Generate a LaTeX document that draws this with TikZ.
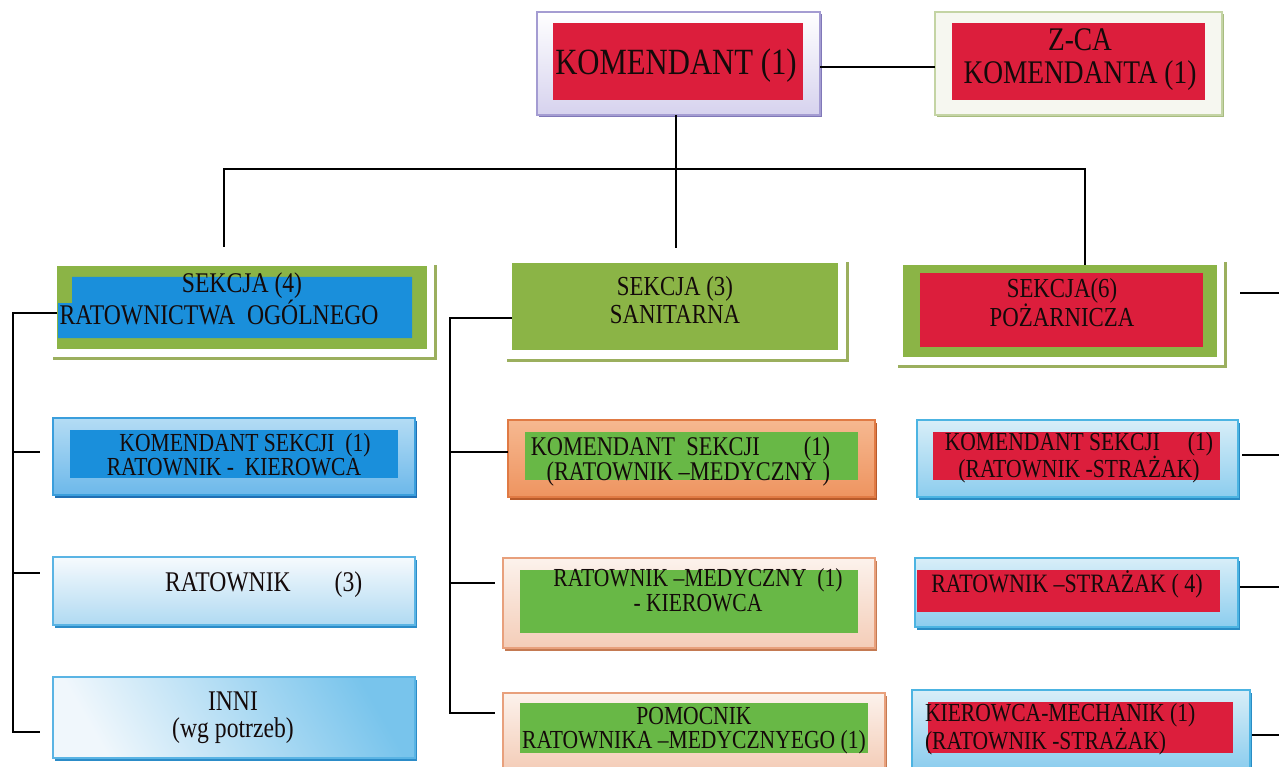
\documentclass[tikz,border=0pt]{standalone}
\usepackage{fontspec}
\setmainfont{Liberation Serif}[FakeStretch=0.83]
\usetikzlibrary{shadows}
\definecolor{redI}{HTML}{DC1E3C}
\definecolor{blueI}{HTML}{1A8FDB}
\definecolor{greenI}{HTML}{68B846}
\definecolor{greenS}{HTML}{8BB446}
\definecolor{oliveF}{HTML}{9BAF5E}
\definecolor{lavD}{HTML}{A49CD2}
\definecolor{lavL}{HTML}{D6D2EE}
\definecolor{lavS}{HTML}{8078B8}
\definecolor{zcaD}{HTML}{C4D4A4}
\definecolor{zcaF}{HTML}{F6F7F0}
\definecolor{zcaS}{HTML}{A8BC80}
\definecolor{bluD}{HTML}{3A9EDC}
\definecolor{bluT}{HTML}{B4DCF4}
\definecolor{bluB}{HTML}{6CB8EA}
\definecolor{bluS}{HTML}{1F6FB4}
\definecolor{palD}{HTML}{5AB4E4}
\definecolor{palT}{HTML}{F6FAFD}
\definecolor{palB}{HTML}{B0DAF2}
\definecolor{palS}{HTML}{2C8CC8}
\definecolor{inL}{HTML}{F0F7FC}
\definecolor{inR}{HTML}{78C4EC}
\definecolor{cyD}{HTML}{4CB4E2}
\definecolor{cyT}{HTML}{D8EEF8}
\definecolor{cyB}{HTML}{8CCDEE}
\definecolor{cyS}{HTML}{2A8CC4}
\definecolor{orD}{HTML}{E07A44}
\definecolor{orT}{HTML}{F6B890}
\definecolor{orB}{HTML}{EE9460}
\definecolor{orS}{HTML}{B85A2A}
\definecolor{peD}{HTML}{E8A07C}
\definecolor{peT}{HTML}{FCF2EC}
\definecolor{peB}{HTML}{F4CDB8}
\definecolor{peS}{HTML}{C47A52}
\definecolor{txtC}{HTML}{140A0A}
\begin{document}
\begin{tikzpicture}[x=1pt,y=-1pt,
  base/.style={rectangle, inner sep=0pt, outer sep=0pt},
  sh/.style={drop shadow={shadow xshift=2pt, shadow yshift=-2.5pt, fill=#1, opacity=1}},
  lavbox/.style={base, draw=lavD, line width=1.5pt, top color=white, bottom color=lavL, sh=lavS},
  zcabox/.style={base, draw=zcaD, line width=1.5pt, fill=zcaF, sh=zcaS},
  bluebox/.style={base, draw=bluD, line width=1.5pt, top color=bluT, bottom color=bluB, sh=bluS},
  paleblue/.style={base, draw=palD, line width=1.2pt, top color=palT, bottom color=palB, sh=palS},
  innibox/.style={base, draw=palD, line width=1.2pt, shading=axis, left color=inL, right color=inR, shading angle=120, sh=palS},
  cyanbox/.style={base, draw=cyD, line width=1.5pt, top color=cyT, bottom color=cyB, sh=cyS},
  orangebox/.style={base, draw=orD, line width=1.5pt, top color=orT, bottom color=orB, sh=orS},
  peachbox/.style={base, draw=peD, line width=1.5pt, top color=peT, bottom color=peB, sh=peS},
  inner/.style={base, fill=#1},
  secframe/.style={line width=3pt, draw=oliveF},
  txt/.style={inner sep=0pt, outer sep=0pt, align=center, text=txtC},
  fs/.style 2 args={font=\fontsize{#1}{#2}\selectfont},
  conn/.style={line width=1.8pt, black}
]
\fill[white] (0,0) rectangle (1279,767);
\useasboundingbox (0,0) rectangle (1279,767);

% ---------- top ----------
\node[lavbox, minimum width=283pt, minimum height=103pt] (kom) at (678.5,63.5) {};
\node[inner=redI, minimum width=250pt, minimum height=77pt] (komI) at (678,61.5) {};
\node[txt, fs={37}{37}] (tkom) at (676,66) {KOMENDANT (1)};

\node[zcabox, minimum width=287pt, minimum height=103pt] (zca) at (1078.5,63.5) {};
\node[inner=redI, minimum width=253pt, minimum height=77pt] (zcaI) at (1078.5,61.5) {};
\node[txt, fs={33}{33}] (tzca) at (1080,59.5) {Z-CA\\KOMENDANTA (1)};

% ---------- sections ----------
\draw[secframe] (53,358) -- (435,358) -- (435,265);
\node[base, fill=greenS, minimum width=370pt, minimum height=83pt] (s4) at (242,307.5) {};
\fill[blueI] (72,277) -- (412,277) -- (412,338) -- (58,338) -- (58,303) -- (72,303) -- cycle;
\node[txt, fs={28.5}{25}] (ts4) at (219,299) {\hspace*{46pt}SEKCJA (4)\\RATOWNICTWA\ \ OGÓLNEGO};

\draw[secframe] (507,360) -- (847,360) -- (847,262);
\node[base, fill=greenS, minimum width=326pt, minimum height=87pt] (s3) at (675,306.5) {};
\node[txt, fs={27.5}{28}] (ts3) at (675,300) {SEKCJA (3)\\SANITARNA};

\draw[secframe] (898,366) -- (1225,366) -- (1225,262);
\node[base, fill=greenS, minimum width=314pt, minimum height=92pt] (s6) at (1060,311) {};
\node[inner=redI, minimum width=283pt, minimum height=74pt] (s6I) at (1061.5,310) {};
\node[txt, fs={27.5}{27}] (ts6) at (1062,302.5) {SEKCJA(6)\\POŻARNICZA};

% ---------- row 3 ----------
\node[bluebox, minimum width=362pt, minimum height=77pt] (ks4) at (234,456.5) {};
\node[inner=blueI, minimum width=328pt, minimum height=48pt] (ks4I) at (234,454) {};
\node[txt, fs={26}{22.5}] (tks4) at (234,455) {\hspace*{22pt}KOMENDANT SEKCJI\ \ (1)\\RATOWNIK -\ \ KIEROWCA};

\node[orangebox, minimum width=367pt, minimum height=77pt] (ksm) at (691.5,458.5) {};
\node[inner=greenI, minimum width=333pt, minimum height=48pt] (ksmI) at (691.5,456) {};
\node[txt, fs={27}{25}, align=right, anchor=east] (tksm) at (830,461.4) {KOMENDANT\ \ SEKCJI\hspace{44pt}(1)\\(RATOWNIK –MEDYCZNY )};

\node[cyanbox, minimum width=321pt, minimum height=77pt] (ks6) at (1077.5,458.5) {};
\node[inner=redI, minimum width=287pt, minimum height=48pt] (ks6I) at (1076.5,456) {};
\node[txt, fs={26}{27}] (tks6) at (1079,457.4) {KOMENDANT SEKCJI\hspace{28pt}(1)\\(RATOWNIK -STRAŻAK)};

% ---------- row 4 ----------
\node[paleblue, minimum width=362pt, minimum height=68pt] (rat3) at (234,591) {};
\node[txt, fs={28.5}{28}, anchor=west] (trat3) at (165,584.5) {RATOWNIK\hspace{44pt}(3)};

\node[peachbox, minimum width=372pt, minimum height=90pt] (rmk) at (689,603) {};
\node[inner=greenI, minimum width=338pt, minimum height=63pt] (rmkI) at (689,601.5) {};
\node[txt, fs={26}{25}] (trmk) at (698,590.5) {RATOWNIK –MEDYCZNY\ \ (1)\\- KIEROWCA};

\node[cyanbox, minimum width=323pt, minimum height=69pt] (rs4) at (1076.5,592.5) {};
\node[inner=redI, minimum width=303pt, minimum height=42pt] (rs4I) at (1068.5,591) {};
\node[txt, fs={26.5}{27}] (trs4) at (1067,583.9) {RATOWNIK –STRAŻAK ( 4)};

% ---------- row 5 ----------
\node[innibox, minimum width=362pt, minimum height=81pt] (inni) at (234,717.5) {};
\node[txt, fs={28.5}{27}] (tinni) at (233,717.4) {INNI\\(wg potrzeb)};

\node[peachbox, minimum width=382pt, minimum height=76pt] (pom) at (694,731) {};
\node[inner=greenI, minimum width=348pt, minimum height=50pt] (pomI) at (694,728) {};
\node[txt, fs={26}{24}] (tpom) at (694,730.4) {POMOCNIK\\RATOWNIKA –MEDYCZNYEGO (1)};

\node[cyanbox, minimum width=338pt, minimum height=79pt] (km) at (1081,729.5) {};
\node[inner=redI, minimum width=305pt, minimum height=51pt] (kmI) at (1080.5,727.5) {};
\node[txt, fs={26}{22.5}, align=left, anchor=west] (tkm) at (925,729.4) {KIEROWCA-MECHANIK (1)\\(RATOWNIK -STRAŻAK)};

% ---------- connectors ----------
\coordinate (H0) at (0,67);
\draw[conn] (kom.east |- H0) -- (zca.west |- H0);
\coordinate (Tm) at (676,248);
\coordinate (Tl) at (224,247);
\coordinate (Tr) at (1085,169);
\draw[conn] (kom.south -| Tm) -- (Tm);
\draw[conn] (Tl) |- (Tr) -- (Tr |- s6.north);

\coordinate (L0) at (13,313);
\coordinate (L1) at (13,452);
\coordinate (L2) at (13,573);
\coordinate (L3) at (13,732);
\coordinate (E1) at (40,452);
\coordinate (E2) at (40,573);
\coordinate (E3) at (40,732);
\draw[conn] (s4.west |- L0) -- (L0) -- (L3) -- (E3);
\draw[conn] (L1) -- (E1);
\draw[conn] (L2) -- (E2);

\coordinate (M0) at (450,318);
\coordinate (M1) at (450,452);
\coordinate (M2) at (450,583);
\coordinate (M3) at (450,713);
\coordinate (F2) at (495,583);
\coordinate (F3) at (495,713);
\draw[conn] (s3.west |- M0) -- (M0) -- (M3) -- (F3);
\draw[conn] (M1) -- (ksm.west |- M1);
\draw[conn] (M2) -- (F2);

\coordinate (S0) at (1240,293);
\coordinate (R0) at (1279,293);
\coordinate (R1) at (1279,455);
\coordinate (R2) at (1279,587);
\coordinate (R3) at (1279,735);
\coordinate (K1) at (1242,455);
\coordinate (K2) at (1240,587);
\coordinate (K3) at (1252,735);
\draw[conn] (S0) -- (R0);
\draw[conn] (K1) -- (R1);
\draw[conn] (K2) -- (R2);
\draw[conn] (K3) -- (R3);
\end{tikzpicture}
\end{document}
